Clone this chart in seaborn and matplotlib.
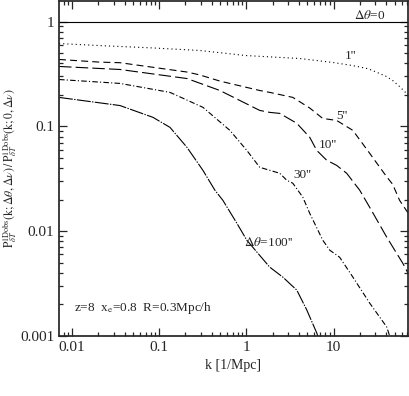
import numpy as np
import pandas as pd
import matplotlib
matplotlib.use("Agg")
import matplotlib.pyplot as plt
import seaborn as sns

# values (k in 1/Mpc, ratio)
k_0 = [0.0071, 71]
r_0 = [1.0, 1.0]

k_1 = [0.0071, 0.021, 0.085, 0.29, 0.98, 4.1, 9.8, 16.6, 24, 28, 40, 47.5, 57, 71]
r_1 = [0.617, 0.59, 0.56, 0.53, 0.474, 0.444, 0.407, 0.38, 0.357, 0.341, 0.30, 0.274, 0.24, 0.20]

k_5 = [0.0071, 0.021, 0.0355, 0.208, 0.29, 0.5, 1.42, 1.85, 3.4, 5.3, 7.5, 10.8, 16.6, 25.9, 40.6, 47.5, 57, 71]
r_5 = [0.435, 0.41, 0.405, 0.33, 0.31, 0.27, 0.22, 0.211, 0.189, 0.15, 0.119, 0.114, 0.0916, 0.0553, 0.033, 0.028, 0.0197, 0.015]

k_10 = [0.0071, 0.0355, 0.208, 0.496, 1.42, 1.85, 2.41, 3.78, 5.32, 6.4, 8.33, 10.8, 14.1, 19.9, 25.9, 40.6, 61.9, 71]
r_10 = [0.373, 0.349, 0.286, 0.22, 0.142, 0.136, 0.133, 0.107, 0.0786, 0.059, 0.0475, 0.0425, 0.0357, 0.0246, 0.0169, 0.00877, 0.00496, 0.0040]

k_30 = [0.0071, 0.0355, 0.133, 0.317, 0.646, 1.01, 1.42, 1.85, 2.41, 2.9, 3.4, 4.43, 5.32, 7.5, 9.02, 11.7, 16.6, 25.9, 40.6, 43.9]
r_30 = [0.28, 0.257, 0.211, 0.152, 0.0916, 0.059, 0.0407, 0.0381, 0.0357, 0.0306, 0.0287, 0.0211, 0.0148, 0.00821, 0.00659, 0.00565, 0.00365, 0.00206, 0.00122, 0.001]

k_100 = [0.0071, 0.0355, 0.0847, 0.133, 0.208, 0.317, 0.435, 0.537, 0.777, 1.01, 1.32, 1.85, 2.61, 3.78, 4.92, 6.4, 6.57]
r_100 = [0.189, 0.158, 0.122, 0.0978, 0.0631, 0.0381, 0.0246, 0.0197, 0.0119, 0.00821, 0.00631, 0.00454, 0.00365, 0.00274, 0.00177, 0.00107, 0.001]

names = ['0', '1', '5', '10', '30', '100']
ks = [k_0, k_1, k_5, k_10, k_30, k_100]
rs = [r_0, r_1, r_5, r_10, r_30, r_100]
df = pd.concat([pd.DataFrame({'k': kk, 'r': rr, 'curve': n}) for n, kk, rr in zip(names, ks, rs)],
               ignore_index=True)

dash_map = {
    '0': '',
    '1': (0.8, 2.2),
    '5': (5, 3),
    '10': (9, 3),
    '30': (4, 1.6, 0.8, 1.6),
    '100': (10, 1, 1, 1),
}

sns.set_theme(style="ticks")
plt.rcParams['font.family'] = ['Liberation Serif', 'DejaVu Serif']
plt.rcParams['mathtext.fontset'] = 'stix'
plt.rcParams['lines.scale_dashes'] = False

fig = plt.figure(figsize=(4.09, 3.96), dpi=100)
ax = fig.add_axes([0.1443, 0.1515, 0.853, 0.847])

sns.lineplot(data=df, x='k', y='r', style='curve', dashes=dash_map, ax=ax,
             color='black', lw=0.8, estimator=None, sort=False, legend=False)

ax.set_xscale('log')
ax.set_yscale('log')
ax.set_xlim(0.0071, 71)
ax.set_ylim(0.001, 1.585)
ax.set_xticks([0.01, 0.1, 1, 10])
ax.set_xticklabels(['0.01', '0.1', '1', '10'])
ax.set_yticks([0.001, 0.01, 0.1, 1])
ax.set_yticklabels(['0.001', '0.01', '0.1', '1'])
ax.tick_params(which='both', direction='in', top=True, right=True, width=0.9)
ax.tick_params(which='major', length=6)
ax.tick_params(which='minor', length=3)

ax.set_xlabel('k [1/Mpc]', fontsize=10)
ax.set_ylabel(r'$\mathrm{P}^{\rm 1Dobs}_{\delta T}(\mathrm{k};\Delta\theta,\Delta\nu)\,/\,'
              r'\mathrm{P}^{\rm 1Dobs}_{\delta T}(\mathrm{k};0,\Delta\nu)$',
              fontsize=8.5)
ax.yaxis.set_label_coords(-0.118, 0.5)

ax.text(26, 1.14, r'$\Delta\theta$=0', ha='center', va='center', fontsize=9.5)
ax.text(15.5, 0.47, "1''", ha='center', va='center', fontsize=9.5)
ax.text(12.5, 0.125, "5''", ha='center', va='center', fontsize=9.5)
ax.text(8.6, 0.067, "10''", ha='center', va='center', fontsize=9.5)
ax.text(4.4, 0.034, "30''", ha='center', va='center', fontsize=9.5)
ax.text(1.8, 0.0078, r"$\Delta\theta$=100''", ha='center', va='center', fontsize=9.5)
ax.text(0.0105, 0.00185, r'z=8  x$_{\rm e}$=0.8  R=0.3Mpc/h', ha='left', va='center', fontsize=9.5)

fig.savefig('out.png', dpi=100)
